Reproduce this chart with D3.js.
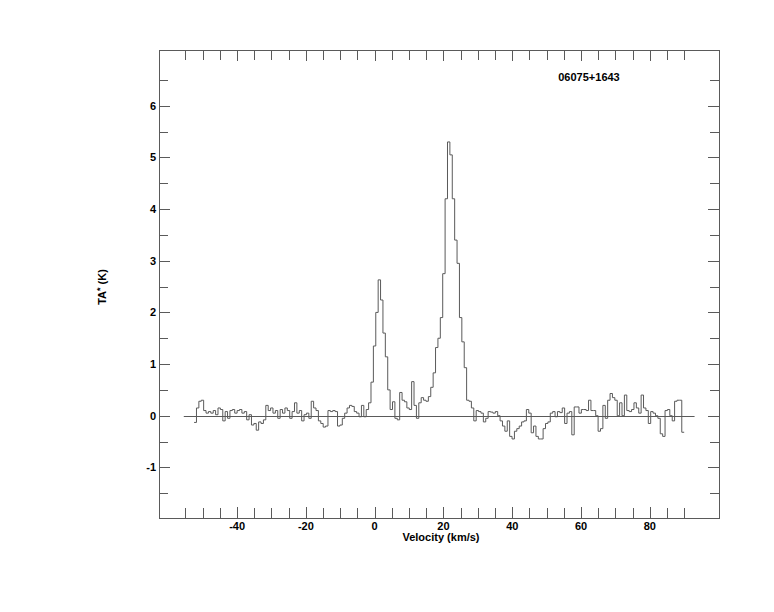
<!DOCTYPE html>
<html>
<head>
<meta charset="utf-8">
<script src="https://cdn.jsdelivr.net/npm/d3@7"></script>
<style>
  html, body { margin: 0; padding: 0; background: #fff; }
  svg { display: block; }
  text { font-family: "Liberation Sans", Arial, sans-serif; font-weight: bold; fill: #000; }
</style>
</head>
<body>
<svg id="chart" width="774" height="612"></svg>
<script>
// ---- data ----
const sourceName = "06075+1643";
const xLabel = "Velocity (km/s)";
const velStart = -52.5;      // left edge of first channel (km/s)
const chanWidth = 0.695;     // channel width (km/s)
const ta = [
  -0.13, 0.15, 0.28, 0.30, 0.10, 0.05, 0.08, 0.05, 0.10, 0.02,
   0.15, 0.12,-0.10, 0.08,-0.05, 0.10, 0.12, 0.05, 0.10, 0.12,
   0.05, 0.08,-0.08, 0.02,-0.18,-0.15,-0.28,-0.12,-0.15,-0.08,
   0.20, 0.10, 0.15, 0.05, 0.10,-0.05, 0.12, 0.05, 0.15, 0.10,
  -0.05, 0.08, 0.25, 0.05, 0.10,-0.10, 0.02, 0.05,-0.05, 0.28,
   0.15, 0.10,-0.10,-0.15,-0.22,-0.20, 0.10, 0.08, 0.10, 0.08,
  -0.20,-0.18,-0.05, 0.05, 0.15, 0.20, 0.18, 0.08, 0.05,-0.02,
   0.20,-0.02, 0.12, 0.25, 0.65, 1.35, 2.00, 2.63, 2.24, 1.60,
   1.14, 0.50, 0.12, 0.27,-0.05,-0.08, 0.45, 0.30, 0.27, 0.15,
   0.12, 0.66, 0.20,-0.05, 0.25, 0.35, 0.30, 0.28, 0.37, 0.55,
   0.83, 1.32, 1.50, 1.90, 2.75, 4.20, 5.30, 5.05, 4.20, 3.40,
   2.95, 1.90, 1.43, 0.93, 0.30, 0.28, 0.15,-0.10, 0.10, 0.08,
   0.05,-0.12,-0.05, 0.08, 0.07, 0.05, 0.08, 0.00,-0.10,-0.20,
  -0.30,-0.10,-0.40,-0.45,-0.30,-0.25,-0.20,-0.12,-0.10, 0.12,
   0.05,-0.33,-0.20,-0.40,-0.45,-0.45,-0.25,-0.15,-0.12, 0.05,
   0.08,-0.02, 0.08, 0.06, 0.15,-0.15, 0.05, 0.08,-0.37, 0.17,
   0.17, 0.05, 0.12, 0.12, 0.10, 0.30, 0.10, 0.10, 0.00,-0.30,
  -0.25, 0.20,-0.05, 0.30, 0.43, 0.35, 0.30, 0.00, 0.25, 0.00,
   0.40, 0.10, 0.08, 0.12, 0.25, 0.15, 0.05, 0.40, 0.15, 0.10,
  -0.15, 0.08, 0.05, 0.00,-0.05,-0.35,-0.40, 0.10, 0.12, 0.00,
  -0.10, 0.28, 0.30, 0.30,-0.32
];
const xDomain = [-62.7, 100.1];
const yDomain = [-1.98, 7.08];
const xTickValues = d3.range(-55, 91, 5);
const xLabelValues = [-40, -20, 0, 20, 40, 60, 80];
const yTickValues = d3.range(-1.5, 6.51, 0.5);
const yLabelValues = [-1, 0, 1, 2, 3, 4, 5, 6];
const baselineRange = [-55.5, 93];

// ---- layout ----
const L = 159, R = 719, T = 50, B = 518;
const svg = d3.select("#chart");
const x = d3.scaleLinear().domain(xDomain).range([L, R]);
const y = d3.scaleLinear().domain(yDomain).range([B, T]);
const ink = "#5a5a5a";

svg.append("rect").attr("width", 774).attr("height", 612).attr("fill", "#fff");

// frame
svg.append("rect")
  .attr("x", L + 0.5).attr("y", T + 0.5)
  .attr("width", R - L).attr("height", B - T)
  .attr("fill", "none").attr("stroke", ink).attr("stroke-width", 1);

const isMajorX = v => Math.abs(v % 20) < 1e-6;
const isMajorY = v => Math.abs(v - Math.round(v)) < 1e-6;

// x ticks (bottom & top, inward)
const xt = svg.append("g");
xTickValues.forEach(v => {
  const px = Math.round(x(v)) + 0.5;
  const len = isMajorX(v) ? 11 : 10;
  xt.append("line").attr("x1", px).attr("x2", px).attr("y1", B).attr("y2", B - len).attr("stroke", ink);
  xt.append("line").attr("x1", px).attr("x2", px).attr("y1", T).attr("y2", T + len).attr("stroke", ink);
});
xLabelValues.forEach(v => {
  svg.append("text").attr("x", x(v)).attr("y", B + 12)
    .attr("text-anchor", "middle").attr("font-size", 11).text(v);
});

// y ticks (left & right, inward)
const yt = svg.append("g");
yTickValues.forEach(v => {
  const py = Math.round(y(v)) + 0.5;
  const len = isMajorY(v) ? 11 : 9;
  yt.append("line").attr("x1", L).attr("x2", L + len).attr("y1", py).attr("y2", py).attr("stroke", ink);
  yt.append("line").attr("x1", R).attr("x2", R - len).attr("y1", py).attr("y2", py).attr("stroke", ink);
});
yLabelValues.forEach(v => {
  svg.append("text").attr("x", L - 3).attr("y", y(v) + 4)
    .attr("text-anchor", "end").attr("font-size", 11).text(v);
});

// zero baseline
svg.append("line")
  .attr("x1", x(baselineRange[0])).attr("x2", x(baselineRange[1]))
  .attr("y1", Math.round(y(0)) + 0.5).attr("y2", Math.round(y(0)) + 0.5)
  .attr("stroke", ink);

// spectrum as histogram
const pts = ta.map((v, i) => [velStart + i * chanWidth, v]);
pts.push([velStart + ta.length * chanWidth, ta[ta.length - 1]]);
const line = d3.line().x(d => x(d[0])).y(d => y(d[1])).curve(d3.curveStepAfter);
svg.append("path").datum(pts)
  .attr("d", line).attr("fill", "none").attr("stroke", ink).attr("stroke-width", 1);

// texts
svg.append("text").attr("x", 589).attr("y", 81)
  .attr("text-anchor", "middle").attr("font-size", 11).text(sourceName);
svg.append("text").attr("x", 441).attr("y", 541)
  .attr("text-anchor", "middle").attr("font-size", 11).text(xLabel);
const yl = svg.append("text")
  .attr("transform", "translate(106,287) rotate(-90)")
  .attr("text-anchor", "middle").attr("font-size", 11);
yl.append("tspan").text("TA");
yl.append("tspan").attr("font-size", 9).attr("dy", -3).text("*");
yl.append("tspan").attr("dy", 3).text(" (K)");
</script>
</body>
</html>
